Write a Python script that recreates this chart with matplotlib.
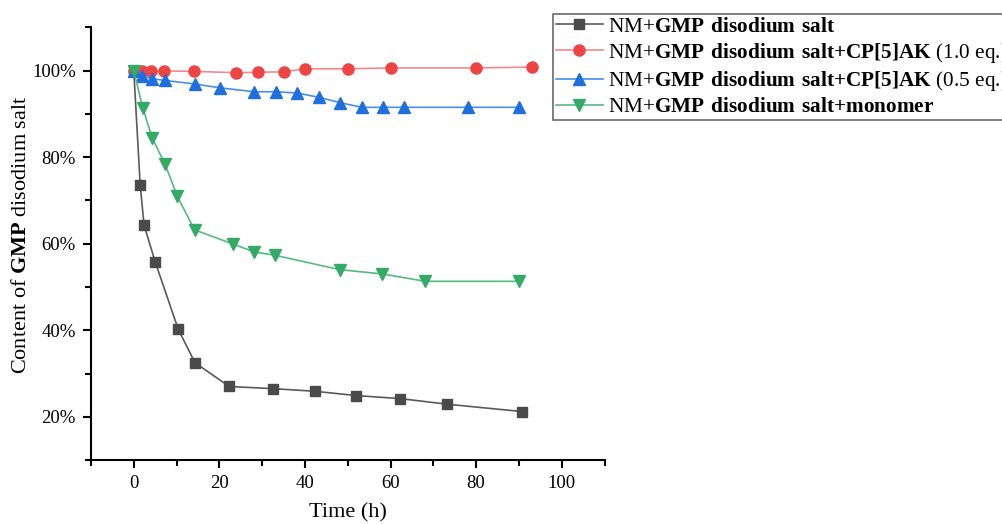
import numpy as np
import matplotlib
matplotlib.use('Agg')
import matplotlib.pyplot as plt
from matplotlib.ticker import MultipleLocator, FuncFormatter

plt.rcParams['font.family'] = 'Liberation Serif'
plt.rcParams['mathtext.fontset'] = 'custom'
plt.rcParams['mathtext.rm'] = 'Liberation Serif'
plt.rcParams['mathtext.bf'] = 'Liberation Serif:bold'

# GMP disodium salt alone
t_nm = [0, 1.5, 2.4, 5.0, 10.4, 14.3, 22.3, 32.6, 42.3, 52.0, 62.3, 73.3, 90.8]
c_nm = [100, 73.6, 64.3, 55.8, 40.2, 32.5, 27.0, 26.5, 25.9, 24.9, 24.2, 22.9, 21.2]

# + CP[5]AK 1.0 eq
t_cp1 = [0, 2, 4, 7, 14, 24, 29, 35, 40, 50, 60, 80, 93]
c_cp1 = [100, 100, 100, 99.9, 99.8, 99.5, 99.6, 99.7, 100.4, 100.4, 100.6, 100.6, 100.8]

# + CP[5]AK 0.5 eq
t_cp05 = [0, 2, 4.3, 7.4, 14.2, 20.2, 28.1, 33.2, 38.2, 43.3, 48.1, 53.3, 58.2, 63.1, 78.1, 90]
c_cp05 = [100, 98.8, 98.1, 97.7, 96.9, 96.0, 95.1, 95.1, 94.8, 93.8, 92.6, 91.5, 91.5, 91.5, 91.5, 91.5]

# + monomer
t_mono = [0, 2.1, 4.3, 7.3, 10.2, 14.2, 23.2, 28.1, 33.1, 48.1, 58.1, 68.1, 90.1]
c_mono = [100, 91.4, 84.4, 78.4, 70.9, 63.2, 59.9, 58.1, 57.3, 54.0, 53.0, 51.3, 51.3]

fig = plt.figure(figsize=(10.03, 5.24), dpi=100)
ax = fig.add_axes([0.0907, 0.122, 0.512, 0.826])

ax.plot(t_nm, c_nm, '-', color='#5a5a5a', lw=1.2, marker='s', ms=7,
        mfc='#4a4a4a', mec='#4a4a4a',
        label=r'NM+$\mathbf{GMP\ disodium\ salt}$')
ax.plot(t_cp1, c_cp1, '-', color='#f08a8a', lw=1.2, marker='o', ms=8,
        mfc='#ee4444', mec='#ee4444',
        label=r'NM+$\mathbf{GMP\ disodium\ salt{+}CP[5]AK}$ (1.0 eq.)')
ax.plot(t_cp05, c_cp05, '-', color='#4a8ee8', lw=1.2, marker='^', ms=8,
        mfc='#1f6fdf', mec='#1f6fdf',
        label=r'NM+$\mathbf{GMP\ disodium\ salt{+}CP[5]AK}$ (0.5 eq.)')
ax.plot(t_mono, c_mono, '-', color='#55bb80', lw=1.2, marker='v', ms=8,
        mfc='#33aa66', mec='#33aa66',
        label=r'NM+$\mathbf{GMP\ disodium\ salt{+}monomer}$')

ax.set_xlim(-10, 110)
ax.set_ylim(10, 110)
ax.xaxis.set_major_locator(MultipleLocator(20))
ax.xaxis.set_minor_locator(MultipleLocator(10))
ax.yaxis.set_major_locator(MultipleLocator(20))
ax.yaxis.set_minor_locator(MultipleLocator(10))
ax.yaxis.set_major_formatter(FuncFormatter(lambda v, p: '{:d}%'.format(int(round(v)))))
ax.set_yticks([20, 40, 60, 80, 100])

for s in ['top', 'right']:
    ax.spines[s].set_visible(False)
for s in ['left', 'bottom']:
    ax.spines[s].set_linewidth(1.5)
ax.tick_params(which='major', direction='out', length=6, width=1.5, labelsize=13.5, pad=5)
ax.tick_params(which='minor', direction='out', length=4, width=1.5)

ax.set_xlabel('Time (h)', fontsize=16, labelpad=8)
ax.set_ylabel(r'Content of $\mathbf{GMP}$ disodium salt', fontsize=16)
ax.yaxis.set_label_coords(-0.117, 0.52)

leg = fig.legend(loc='upper left', bbox_to_anchor=(0.551, 0.974), fontsize=15.3,
                 frameon=True, fancybox=False, edgecolor='#444444',
                 handlelength=2.2, handletextpad=0.25, borderpad=0.15,
                 labelspacing=0.2, borderaxespad=0)
leg.get_frame().set_linewidth(1.2)

fig.savefig('out.png', dpi=100)
